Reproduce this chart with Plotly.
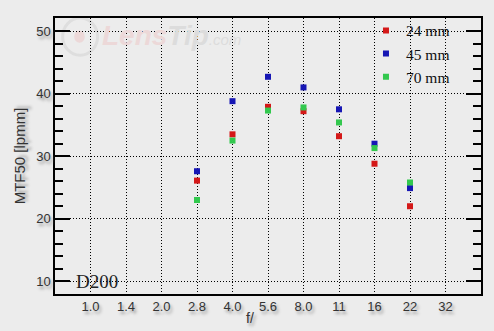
import plotly.graph_objects as go

apertures = ["1.0", "1.4", "2.0", "2.8", "4.0", "5.6", "8.0", "11", "16", "22", "32"]
measured = ["2.8", "4.0", "5.6", "8.0", "11", "16", "22"]
mtf_24mm = [26.1, 33.5, 37.9, 37.2, 33.2, 28.8, 22.0]
mtf_45mm = [27.6, 38.8, 42.7, 41.0, 37.5, 32.0, 24.9]
mtf_70mm = [23.0, 32.5, 37.3, 37.8, 35.4, 31.3, 25.8]

series = [("24 mm", mtf_24mm, "#d41818"), ("45 mm", mtf_45mm, "#1616b4"), ("70 mm", mtf_70mm, "#33c84e")]
idx = [apertures.index(a) for a in measured]

fig = go.Figure()
for name, vals, col in series:
    fig.add_trace(go.Scatter(x=idx, y=vals, mode="markers", name=name,
                             marker=dict(symbol="square", size=6, color=col, line=dict(width=0))))

shadow = "2px 3px 3px #9a9a9a"
tickfont = dict(family="Liberation Sans, Arial", size=13, color="#333333", shadow=shadow)

fig.update_layout(
    width=494, height=331,
    margin=dict(l=55, r=11, t=18, b=37),
    paper_bgcolor="#ececec", plot_bgcolor="#ececec",
    showlegend=True,
    legend=dict(x=0.73, y=1.015, xanchor="left", yanchor="top",
                bgcolor="rgba(0,0,0,0)", borderwidth=0,
                font=dict(family="Liberation Serif, Times New Roman", size=15.5, color="#111111"),
                itemwidth=30, tracegroupgap=0),
    xaxis=dict(range=[-1, 11], tickmode="array", tickvals=list(range(len(apertures))), ticktext=apertures,
               showgrid=True, gridcolor="black", griddash="1px,2px", gridwidth=1,
               zeroline=False, showline=True, linecolor="black", linewidth=1.5, mirror=True,
               ticks="", tickfont=tickfont),
    yaxis=dict(range=[7.97, 52.1], tick0=0, dtick=10,
               showgrid=True, gridcolor="black", griddash="1px,2px", gridwidth=1,
               zeroline=False, showline=True, linecolor="black", linewidth=1.5, mirror="ticks",
               ticks="inside", ticklen=15, tickcolor="black", tickwidth=1.5,
               minor=dict(dtick=2, ticks="inside", ticklen=8, tickcolor="black", tickwidth=1.5, showgrid=False),
               tickfont=tickfont,
               title=dict(text="MTF50 [lpmm]", font=dict(family="Liberation Sans, Arial", size=15, color="#333333", shadow=shadow), standoff=7)),
)

fig.add_annotation(xref="paper", yref="paper", x=0.458, y=-0.087, xanchor="center", yanchor="middle",
                   text="f/", showarrow=False,
                   font=dict(family="Liberation Sans, Arial", size=14, color="#333333", shadow=shadow))

fig.add_annotation(xref="paper", yref="y", x=0.045, y=10, xanchor="left", yanchor="middle",
                   text="D200", showarrow=False,
                   font=dict(family="Liberation Serif, Times New Roman", size=19, color="#222222"))

fig.add_annotation(xref="paper", yref="paper", x=0.105, y=0.935, xanchor="left", yanchor="middle",
                   text="<b><i><span style='color:#ecd8d8'>Lens</span><span style='color:#dcdcdc'>Tip</span></i></b><span style='color:#dcdcdc;font-size:15px'><i>.com</i></span>",
                   showarrow=False,
                   font=dict(family="Liberation Sans, Arial", size=28))
fig.add_shape(type="circle", xref="paper", yref="paper", x0=0.018, x1=0.1, y0=0.865, y1=1.0,
              line=dict(color="#dedede", width=3), layer="below")
fig.add_shape(type="circle", xref="paper", yref="paper", x0=0.045, x1=0.07, y0=0.91, y1=0.955,
              line=dict(width=0), fillcolor="#ecd8d8", layer="below")

fig.write_html("out.html")
